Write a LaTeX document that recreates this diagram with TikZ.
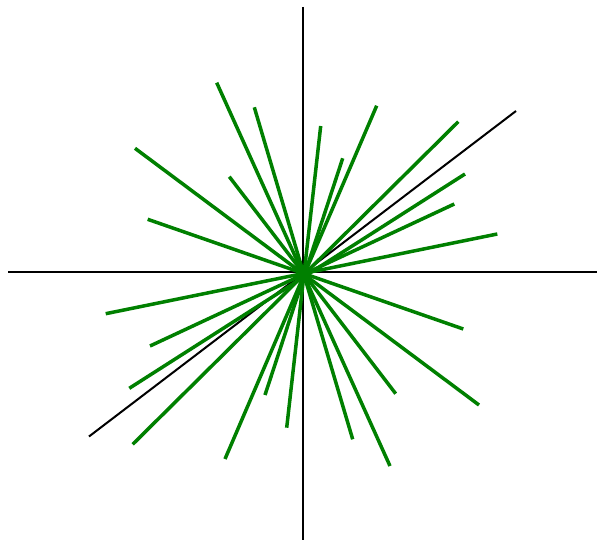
\documentclass[tikz,border=0pt]{standalone}
\usepackage{xcolor}
\usetikzlibrary{math}

\definecolor{raygreen}{RGB}{0,128,0}
\tikzset{
  axisline/.style={line width=2pt, black},
  ray/.style={line width=3.5pt, raygreen},
}

\begin{document}
\begin{tikzpicture}[x=1pt,y=-1pt]
\useasboundingbox (0,0) rectangle (597,540);

\coordinate (O) at (303,272);
\coordinate (xl) at (8,272);
\coordinate (xr) at (597,272);
\coordinate (yt) at (303,7);
\coordinate (yb) at (303,540);
\coordinate (dl) at (89,436.5);
\coordinate (du) at (516,111);

%axes and diagonal
\draw[axisline] (xl) -- (xr);
\draw[axisline] (yt) -- (yb);
\draw[axisline] (dl) -- (du);

%green rays through the origin
\foreach \xa/\ya/\xb/\yb [count=\i] in {
  216.7/82.7/390/466,
  254.3/107.3/352.7/439.3,
  135/148.3/479/405,
  229.3/176.7/395.7/393.7,
  147.7/219.3/463.3/329,
  320.7/126/286.7/427.7,
  342.7/158.3/265/395,
  376.7/105.7/225/459,
  458.3/121.7/132.7/444.3,
  465/174/129.3/388.3,
  454.3/204/150/346,
  497.3/234/105.7/313.7}
{
  \coordinate (r\i a) at (\xa,\ya);
  \coordinate (r\i b) at (\xb,\yb);
  \draw[ray] (r\i a) -- (r\i b);
}
\end{tikzpicture}
\end{document}
